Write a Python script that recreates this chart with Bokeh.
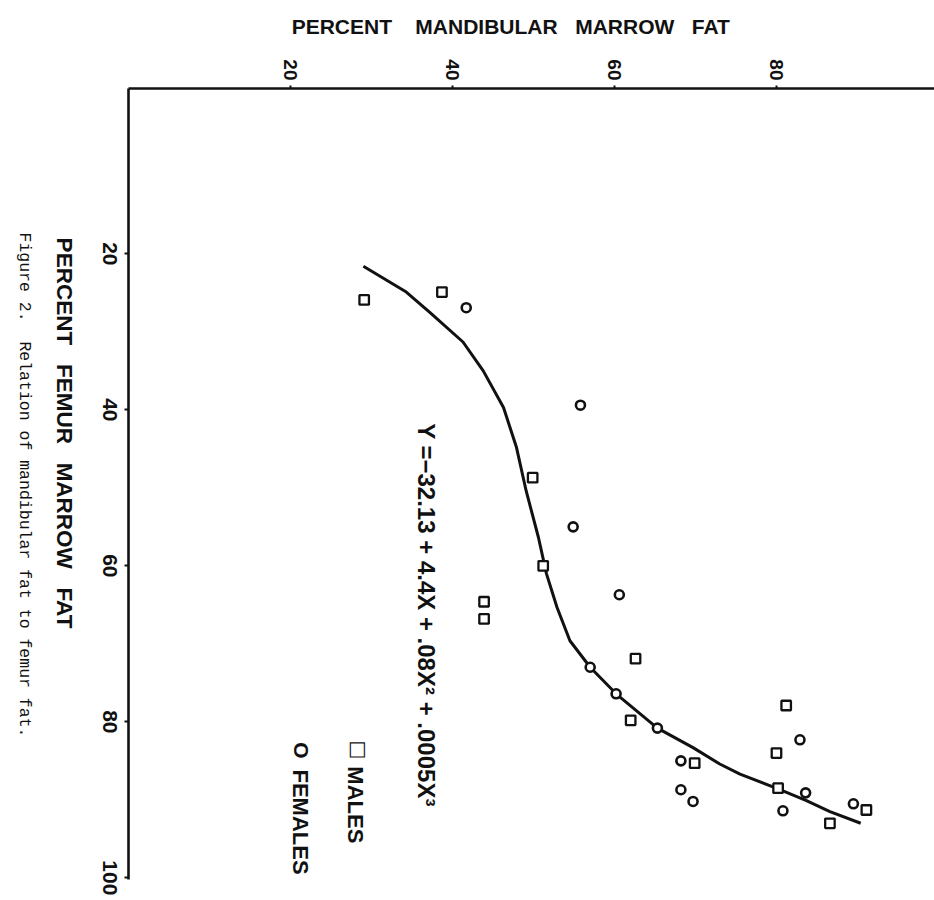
import math
from bokeh.plotting import figure
from bokeh.models import Range1d, Label, FixedTicker, LinearAxis, CustomJSTickFormatter, ColumnDataSource
from bokeh.core.properties import value
from bokeh.embed import file_html
from bokeh.resources import INLINE

# ---- data (x = percent mandibular marrow fat, y = percent femur marrow fat) ----
male_mandibular = [29.1, 38.7, 49.9, 51.2, 43.9, 43.9, 62.6, 62.0, 69.9, 81.2, 80.0, 80.2, 86.6, 91.1]
male_femur      = [25.9, 24.9, 48.7, 60.0, 64.6, 66.8, 71.9, 79.8, 85.3, 77.9, 84.0, 88.5, 93.0, 91.3]

female_mandibular = [41.7, 55.8, 54.9, 60.6, 57.0, 60.2, 65.3, 68.2, 68.2, 69.7, 82.9, 83.6, 80.8, 89.5]
female_femur      = [26.9, 39.4, 55.0, 63.7, 73.0, 76.4, 80.8, 85.0, 88.7, 90.2, 82.3, 89.1, 91.4, 90.5]

curve_femur      = [21.6, 24.9, 27.5, 31.3, 35.0, 39.7, 44.8, 50.4, 56.3, 61.0, 65.3,
                    69.6, 73.0, 76.4, 80.8, 83.3, 85.4, 86.7, 88.6, 90.1, 91.5, 93.0]
curve_mandibular = [29.0, 34.3, 37.2, 41.3, 43.8, 46.3, 47.9, 49.1, 50.6, 51.6, 52.9,
                    54.5, 57.0, 60.2, 65.3, 69.7, 73.0, 75.5, 80.2, 83.7, 86.6, 90.4]

mandibular_ticks = [20, 40, 60, 80]
femur_ticks = [20, 40, 60, 80, 100]

NB = "\u00a0"
x_label = "PERCENT" + NB * 4 + "MANDIBULAR" + NB * 3 + "MARROW" + NB * 3 + "FAT"
y_label = "PERCENT" + NB * 3 + "FEMUR" + NB * 3 + "MARROW" + NB * 3 + "FAT"
equation = "Y =\u221232.13 + 4.4X + .08X\u00b2 + .0005X\u00b3"
caption = "Figure 2." + NB * 2 + "Relation of mandibular fat to femur fat."
legend_labels = ["MALES", "FEMALES"]
legend_symbols = ["\u25a1", "O"]

INK = "#111111"
DOWN = -math.pi / 2
FONT = "Liberation Sans"

# frame covers the whole canvas; axes are pinned inside it with fixed_location
p = figure(width=934, height=900, output_backend="svg", toolbar_location=None,
           x_range=Range1d(-15.80, 99.51), y_range=Range1d(102.90, -12.48),
           x_axis_location=None, y_axis_location=None,
           min_border=0, background_fill_color="white", border_fill_color="white")
p.outline_line_color = None
p.grid.visible = False

blank = CustomJSTickFormatter(code="return ''")
top_axis = LinearAxis(fixed_location=-1.2, bounds=(0, 99.51),
                      ticker=FixedTicker(ticks=mandibular_ticks), formatter=blank)
left_axis = LinearAxis(fixed_location=0, bounds=(-1.2, 100.2),
                       ticker=FixedTicker(ticks=femur_ticks), formatter=blank)
for ax, out in ((top_axis, 3), (left_axis, 4)):
    ax.major_tick_in = 0
    ax.major_tick_out = out
    ax.major_tick_line_width = 2
    ax.major_tick_line_color = INK
    ax.minor_tick_line_color = None
    ax.axis_line_width = 2.6
    ax.axis_line_color = INK
    ax.major_label_standoff = 0
p.add_layout(top_axis, "above")
p.add_layout(left_axis, "left")

# tick labels, read top-to-bottom like the rotated original
top_src = ColumnDataSource(dict(x=mandibular_ticks, y=[-2.23] * len(mandibular_ticks),
                                t=[str(v) for v in mandibular_ticks]))
p.text(x="x", y="y", text="t", source=top_src, angle=DOWN, text_align="right",
       text_baseline="middle", text_font=value(FONT), text_font_style="bold",
       text_font_size="19px", text_color=INK)
left_src = ColumnDataSource(dict(x=[-2.22] * len(femur_ticks), y=femur_ticks,
                                 t=[str(v) for v in femur_ticks]))
p.text(x="x", y="y", text="t", source=left_src, angle=DOWN, text_align="center",
       text_baseline="middle", text_font=value(FONT), text_font_style="bold",
       text_font_size="21px", text_color=INK)

# fitted curve
p.line(curve_mandibular, curve_femur, line_color=INK, line_width=3)

# points
p.scatter(male_mandibular, male_femur, marker="square", size=9.5,
          line_color=INK, line_width=2.3, fill_color="white")
p.scatter(female_mandibular, female_femur, marker="circle", size=9,
          line_color=INK, line_width=2.6, fill_color="white")

def add_label(x, y, text, size, align="center", angle=DOWN, font=FONT, style="bold",
              baseline="alphabetic"):
    p.add_layout(Label(x=x, y=y, text=text, angle=angle, text_align=align,
                       text_baseline=baseline, text_font=font, text_font_style=style,
                       text_font_size=size, text_color=INK))

add_label(47.2, -9.14, x_label, "21px", angle=0)
add_label(-7.84, 42.97, y_label, "22.5px")
add_label(-12.8, 49.63, caption, "16.5px", font="Liberation Mono", style="normal")
add_label(36.8, 66.3, equation, "24px")
# legend
add_label(28.5, 82.4, legend_symbols[0], "20px", align="left", font="DejaVu Sans")
add_label(28.0, 85.7, legend_labels[0], "22px", align="left")
add_label(21.3, 82.6, legend_symbols[1], "21px", align="left")
add_label(21.2, 86.1, legend_labels[1], "22px", align="left")

open("out.html", "w").write(file_html(p, INLINE))
